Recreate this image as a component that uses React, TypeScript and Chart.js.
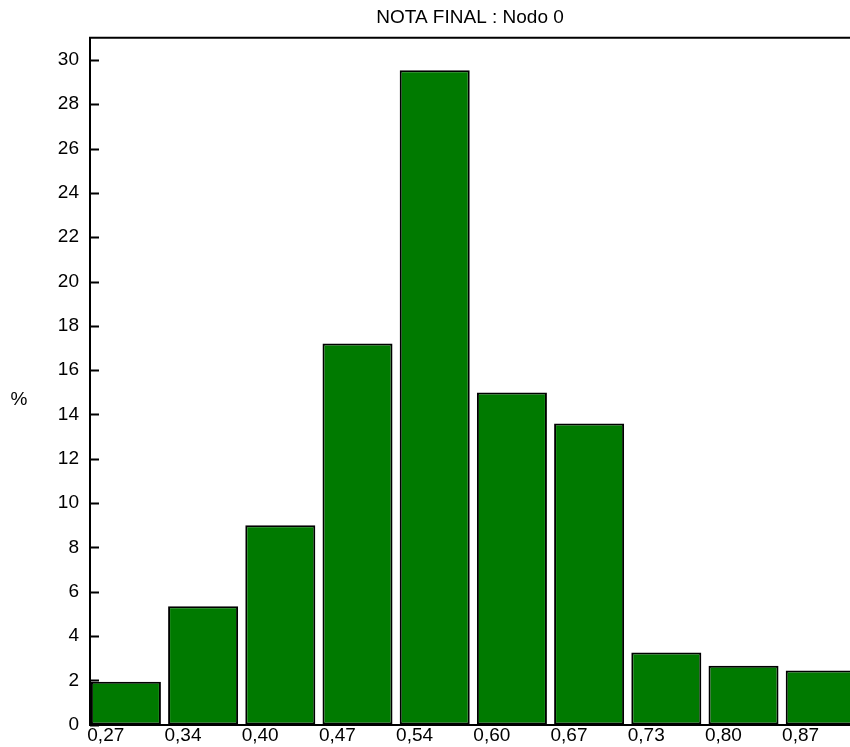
import React, { useEffect, useRef } from 'react';
import { Chart, registerables } from 'chart.js';

Chart.register(...registerables);

const chartTitle = 'NOTA FINAL : Nodo 0';
const yAxisLabel = '%';
const binLabels = ['0,27', '0,34', '0,40', '0,47', '0,54', '0,60', '0,67', '0,73', '0,80', '0,87'];
const percentValues = [1.93, 5.34, 9.0, 17.2, 29.53, 14.99, 13.59, 3.26, 2.66, 2.44];
const yTickValues = [0, 2, 4, 6, 8, 10, 12, 14, 16, 18, 20, 22, 24, 26, 28, 30];

const FONT = "'Liberation Sans', Arial, Helvetica, sans-serif";
const BAR_GREEN = 'rgb(0,122,0)';

export default function App() {
  const ref = useRef<HTMLCanvasElement>(null);

  useEffect(() => {
    const canvas = ref.current;
    if (!canvas) return;

    const framePlugin = {
      id: 'framePlugin',
      beforeDatasetsDraw(chart: any) {
        const { ctx, chartArea: a, scales } = chart;
        const y = scales.y;
        ctx.save();
        ctx.strokeStyle = '#000';
        ctx.lineWidth = 2;
        ctx.beginPath();
        y.ticks.forEach((t: any) => {
          const py = Math.round(y.getPixelForValue(t.value)) + 0.5;
          ctx.moveTo(a.left, py);
          ctx.lineTo(a.left + 9, py);
        });
        ctx.stroke();
        ctx.restore();
      },
      afterDatasetsDraw(chart: any) {
        const { ctx, chartArea: a } = chart;
        ctx.save();
        ctx.strokeStyle = '#000';
        ctx.lineWidth = 2;
        ctx.beginPath();
        ctx.moveTo(a.left - 1, a.top);
        ctx.lineTo(a.right, a.top);
        ctx.stroke();
        ctx.fillStyle = '#000';
        ctx.font = `19px ${FONT}`;
        ctx.textAlign = 'center';
        ctx.textBaseline = 'middle';
        ctx.fillText(yAxisLabel, a.left - 71, (a.top + a.bottom) / 2 + 19);
        ctx.restore();
      },
    };

    const chart = new Chart(canvas, {
      type: 'bar',
      data: {
        datasets: [
          {
            data: percentValues.map((v, i) => ({ x: i + 0.5, y: v })),
            backgroundColor: BAR_GREEN,
            borderColor: '#000',
            borderWidth: 2,
            borderSkipped: false,
            barPercentage: 0.907,
            categoryPercentage: 1,
          },
        ],
      },
      options: {
        responsive: false,
        animation: false,
        events: [],
        layout: { padding: { left: 0, right: 0, top: 0, bottom: 0 } },
        plugins: {
          legend: { display: false },
          tooltip: { enabled: false },
          title: {
            display: true,
            text: chartTitle,
            color: '#000',
            font: { family: FONT, size: 19, weight: 'normal' },
            padding: { top: 6, bottom: 9 },
          },
        },
        scales: {
          x: {
            type: 'linear',
            offset: false,
            min: 0.035,
            max: 11.045,
            grid: { display: false, drawTicks: false, offset: false },
            border: { display: true, color: '#000', width: 2 },
            afterBuildTicks: (s: any) => {
              s.ticks = binLabels.map((_, i) => ({ value: i }));
            },
            afterFit: (s: any) => {
              s.height = 22;
            },
            ticks: {
              align: 'start',
              autoSkip: false,
              maxRotation: 0,
              padding: 0,
              color: '#000',
              font: { family: FONT, size: 19 },
              callback: (_v: any, i: number) => binLabels[i],
            },
          },
          y: {
            min: 0,
            max: 31,
            grid: { display: false, drawTicks: false },
            border: { display: true, color: '#000', width: 2 },
            afterBuildTicks: (s: any) => {
              s.ticks = yTickValues.map((v) => ({ value: v }));
            },
            afterFit: (s: any) => {
              s.width = 90;
            },
            ticks: {
              autoSkip: false,
              padding: 11,
              color: '#000',
              font: { family: FONT, size: 19 },
              callback: (v: any) => String(v),
            },
          },
        },
      },
      plugins: [framePlugin],
    } as any);

    return () => chart.destroy();
  }, []);

  return (
    <div
      style={{
        position: 'fixed',
        left: 0,
        top: 0,
        width: 850,
        height: 747,
        overflow: 'hidden',
        background: '#fff',
      }}
    >
      <canvas ref={ref} width={940} height={747} style={{ display: 'block' }} />
    </div>
  );
}
